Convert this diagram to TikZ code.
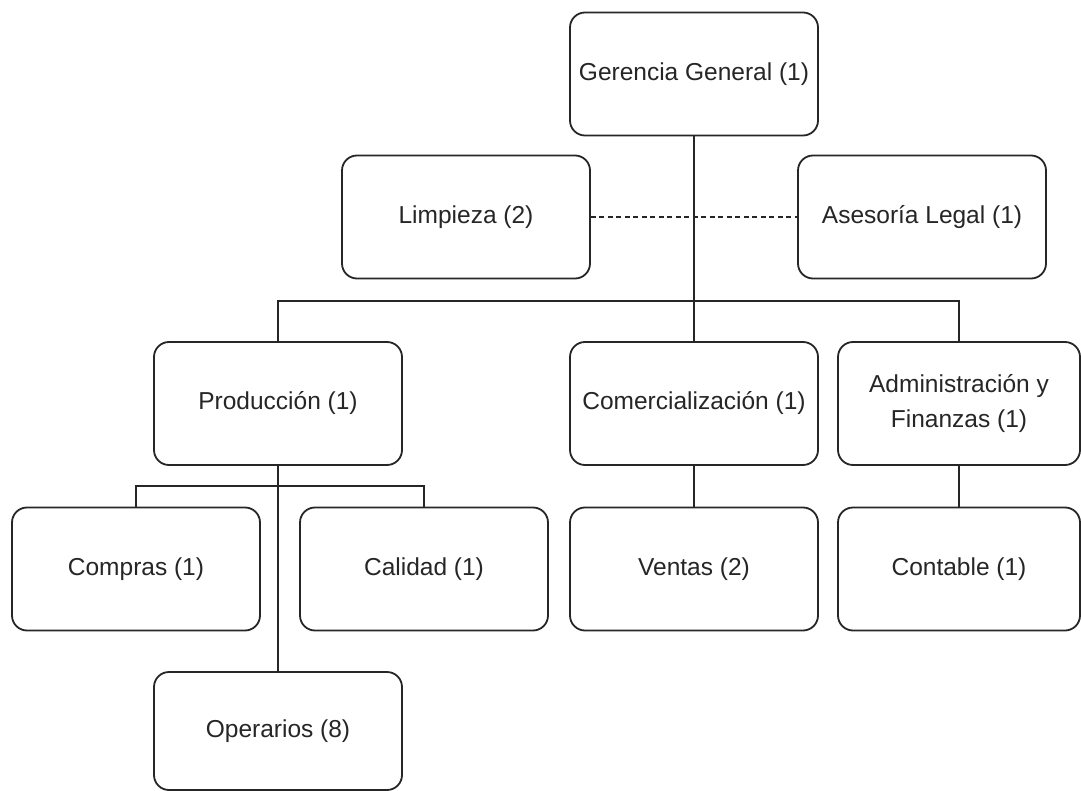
\documentclass[tikz,border=0pt]{standalone}
\usepackage{fontspec}
\setmainfont{Liberation Sans}
\definecolor{linec}{HTML}{262626}
\definecolor{textc}{HTML}{262626}
\begin{document}
\begin{tikzpicture}[x=1pt,y=-1pt,
  box/.style={draw=linec, line width=1.8pt, rounded corners=15pt,
    minimum width=248pt, minimum height=123pt, inner sep=0pt,
    align=center, text=textc, font=\fontsize{24.5}{35}\selectfont},
  link/.style={draw=linec, line width=1.8pt},
  dashlink/.style={link, dash pattern=on 5pt off 3.5pt}]
\useasboundingbox[fill=white] (0,0) rectangle (1081,791);

\node[box] (ger) at (694,74) {Gerencia General (1)};
\node[box] (lim) at (466,217) {Limpieza (2)};
\node[box] (ase) at (922,217) {Asesoría Legal (1)};
\node[box] (pro) at (278,403.5) {Producción (1)};
\node[box] (com) at (694,403.5) {Comercialización (1)};
\node[box, minimum width=242pt] (adm) at (959,403.5) {Administración y\\Finanzas (1)};
\node[box] (cmp) at (136,569) {Compras (1)};
\node[box] (cal) at (424,569) {Calidad (1)};
\node[box] (ven) at (694,569) {Ventas (2)};
\node[box, minimum width=242pt] (cont) at (959,569) {Contable (1)};
\node[box, minimum height=118pt] (ope) at (278,731) {Operarios (8)};

\coordinate (hub) at (694,301);
\coordinate (phub) at (278,486);

\draw[link] (ger.south) -- (com.north);
\draw[link] (pro.north) |- (hub) -| (adm.north);
\draw[dashlink] (lim.east) -- (ase.west);
\draw[link] (pro.south) -- (ope.north);
\draw[link] (cmp.north) |- (phub) -| (cal.north);
\draw[link] (com.south) -- (ven.north);
\draw[link] (adm.south) -- (cont.north);
\end{tikzpicture}
\end{document}
